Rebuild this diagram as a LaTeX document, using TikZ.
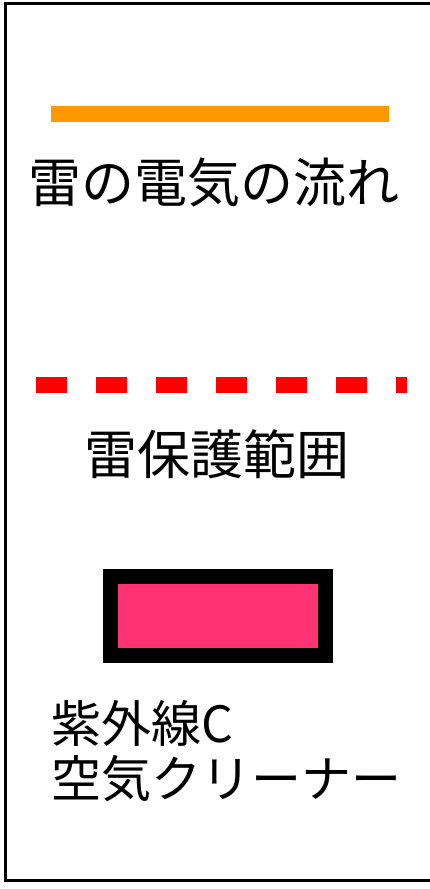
\documentclass[tikz,border=0pt]{standalone}
\usepackage{fontspec}
\newfontfamily\jpfont{Noto Sans CJK JP}
\usetikzlibrary{positioning}

\definecolor{boltorange}{HTML}{FF9900}
\definecolor{zonered}{HTML}{FF0000}
\definecolor{uvpink}{HTML}{FF3375}

\tikzset{
	legendtext/.style={inner sep=0pt, font=\jpfont\fontsize{53}{55}\selectfont},
}

\begin{document}
\begin{tikzpicture}[x=1pt, y=-1pt]
		\useasboundingbox (0,0) rectangle (430,889);
		% frame (open on the right)
		\draw[line width=3pt, black] (436,3) -- (5.5,3) -- (5.5,880.5) -- (436,880.5);
		% lightning current
		\draw[line width=16pt, boltorange] (51,114) -- (389,114);
		\node[legendtext] (current) at (214,183) {雷の電気の流れ};
		% protection zone
		\draw[line width=16pt, zonered, dash pattern=on 31pt off 29pt] (36,385) -- (407,385);
		\node[legendtext] (zone) at (217,454) {雷保護範囲};
		% air cleaner
		\draw[line width=15pt, black, fill=uvpink] (110.5,576) rectangle (325.5,655.5);
		\node[legendtext, font=\jpfont\fontsize{50}{55}\selectfont, anchor=north west, align=left] (cleaner) at (51,700) {紫外線C\\空気クリーナー};
	\end{tikzpicture}
\end{document}
